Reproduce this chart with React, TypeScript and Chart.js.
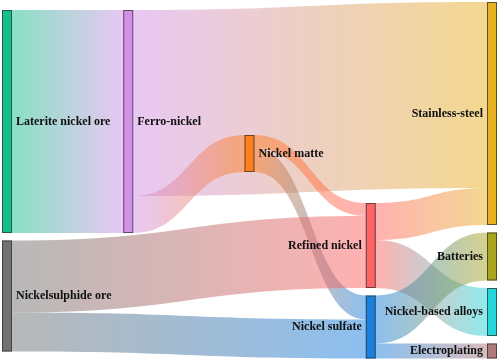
import React, { useEffect, useRef } from "react";
import { Chart, registerables } from "chart.js";

Chart.register(...registerables);

// ---- data ----
const nodeNames = [
  "Laterite nickel ore",
  "Nickelsulphide ore",
  "Ferro-nickel",
  "Nickel matte",
  "Refined nickel",
  "Nickel sulfate",
  "Stainless-steel",
  "Batteries",
  "Nickel-based alloys",
  "Electroplating",
];
const nodeColumns = [0, 0, 1, 2, 3, 3, 4, 4, 4, 4];
const linkSources = [0, 2, 2, 3, 3, 1, 1, 4, 4, 5, 5];
const linkTargets = [2, 6, 3, 4, 5, 4, 5, 6, 8, 7, 9];
const linkValues = [223, 186, 37, 13, 24, 72, 39, 37, 48, 48, 15];

// ---- styles / layout ----
const nodeColors = [
  "#14c08a",
  "#727272",
  "#d291e8",
  "#ff7f1e",
  "#ff6464",
  "#1a80e0",
  "#e8b122",
  "#a9a51f",
  "#22d6da",
  "#b07a7a",
];
const columnTops = [10, 10, 135, 203, 2];
const nodeGap = 7.5;
const nodeWidth = 10;
const linkAlpha = 0.5;
const labelFont = 'bold 12px "Liberation Serif", "Times New Roman", serif';

function hexToRgba(hex: string, a: number) {
  const h = hex.replace("#", "");
  const r = parseInt(h.slice(0, 2), 16);
  const g = parseInt(h.slice(2, 4), 16);
  const b = parseInt(h.slice(4, 6), 16);
  return `rgba(${r},${g},${b},${a})`;
}

const sankeyPlugin = {
  id: "sankeyDraw",
  afterDatasetsDraw(chart: any) {
    const ctx: CanvasRenderingContext2D = chart.ctx;
    const xs = chart.scales.x;
    const ys = chart.scales.y;
    const n = nodeNames.length;
    const inSum = new Array(n).fill(0);
    const outSum = new Array(n).fill(0);
    linkValues.forEach((v, i) => {
      outSum[linkSources[i]] += v;
      inSum[linkTargets[i]] += v;
    });
    const nodeVal = nodeNames.map((_, i) => Math.max(inSum[i], outSum[i]));
    const nodeTop: number[] = new Array(n).fill(0);
    const colCursor = columnTops.slice();
    for (let i = 0; i < n; i++) {
      const c = nodeColumns[i];
      nodeTop[i] = colCursor[c];
      colCursor[c] += nodeVal[i] + nodeGap;
    }
    const px0 = (i: number) => xs.getPixelForValue(nodeColumns[i]);
    const px1 = (i: number) => px0(i) + nodeWidth;
    const py = (v: number) => ys.getPixelForValue(v);

    const outOff: number[] = new Array(linkValues.length).fill(0);
    const inOff: number[] = new Array(linkValues.length).fill(0);
    for (let k = 0; k < n; k++) {
      const outs = linkValues
        .map((_, i) => i)
        .filter((i) => linkSources[i] === k)
        .sort((a, b) => nodeTop[linkTargets[a]] - nodeTop[linkTargets[b]]);
      let c = nodeTop[k];
      outs.forEach((i) => {
        outOff[i] = c;
        c += linkValues[i];
      });
      const ins = linkValues
        .map((_, i) => i)
        .filter((i) => linkTargets[i] === k)
        .sort((a, b) => nodeTop[linkSources[a]] - nodeTop[linkSources[b]]);
      c = nodeTop[k];
      ins.forEach((i) => {
        inOff[i] = c;
        c += linkValues[i];
      });
    }

    ctx.save();
    linkValues.forEach((v, i) => {
      const s = linkSources[i];
      const t = linkTargets[i];
      const x0 = px1(s);
      const x1 = px0(t);
      const xm = (x0 + x1) / 2;
      const ys0 = py(outOff[i]);
      const ys1 = py(outOff[i] + v);
      const yt0 = py(inOff[i]);
      const yt1 = py(inOff[i] + v);
      const grad = ctx.createLinearGradient(x0, 0, x1, 0);
      grad.addColorStop(0, hexToRgba(nodeColors[s], linkAlpha));
      grad.addColorStop(1, hexToRgba(nodeColors[t], linkAlpha));
      ctx.fillStyle = grad;
      ctx.beginPath();
      ctx.moveTo(x0, ys0);
      ctx.bezierCurveTo(xm, ys0, xm, yt0, x1, yt0);
      ctx.lineTo(x1, yt1);
      ctx.bezierCurveTo(xm, yt1, xm, ys1, x0, ys1);
      ctx.closePath();
      ctx.fill();
    });

    for (let i = 0; i < n; i++) {
      const x0 = px0(i);
      const y0 = py(nodeTop[i]);
      const y1 = py(nodeTop[i] + nodeVal[i]);
      ctx.fillStyle = nodeColors[i];
      ctx.fillRect(x0, y0, nodeWidth, y1 - y0);
      ctx.strokeStyle = "rgba(50,50,50,0.75)";
      ctx.lineWidth = 1;
      ctx.strokeRect(x0 + 0.5, y0 + 0.5, nodeWidth - 1, y1 - y0 - 1);
    }

    ctx.font = labelFont;
    ctx.fillStyle = "#111";
    ctx.textBaseline = "middle";
    const mid = chart.width / 2;
    for (let i = 0; i < n; i++) {
      const yc = (py(nodeTop[i]) + py(nodeTop[i] + nodeVal[i])) / 2;
      if (px0(i) < mid) {
        ctx.textAlign = "left";
        ctx.fillText(nodeNames[i], px1(i) + 4, yc);
      } else {
        ctx.textAlign = "right";
        ctx.fillText(nodeNames[i], px0(i) - 4, yc);
      }
    }
    ctx.restore();
  },
};

export default function App() {
  const ref = useRef<HTMLCanvasElement | null>(null);
  useEffect(() => {
    document.body.style.margin = "0";
    if (!ref.current) return;
    const chart = new Chart(ref.current, {
      type: "scatter",
      data: { datasets: [{ data: [] }] },
      options: {
        responsive: false,
        animation: false,
        devicePixelRatio: 1,
        layout: { padding: { left: 2, right: 11, top: 0, bottom: 0 } },
        plugins: { legend: { display: false }, tooltip: { enabled: false } },
        scales: {
          x: { type: "linear", min: 0, max: 4, display: false },
          y: { type: "linear", min: 0, max: 363, reverse: true, display: false },
        },
      },
      plugins: [sankeyPlugin],
    } as any);
    let alive = true;
    if ((document as any).fonts && (document as any).fonts.load) {
      (document as any).fonts.load(labelFont).then(() => {
        if (alive) chart.draw();
      });
    }
    return () => {
      alive = false;
      chart.destroy();
    };
  }, []);
  return (
    <div style={{ width: 498, height: 363, position: "relative" }}>
      <span
        style={{
          position: "absolute",
          left: 0,
          top: 0,
          opacity: 0,
          font: labelFont,
          pointerEvents: "none",
        }}
      >
        Laterite
      </span>
      <canvas ref={ref} width={498} height={363} style={{ display: "block" }} />
    </div>
  );
}
